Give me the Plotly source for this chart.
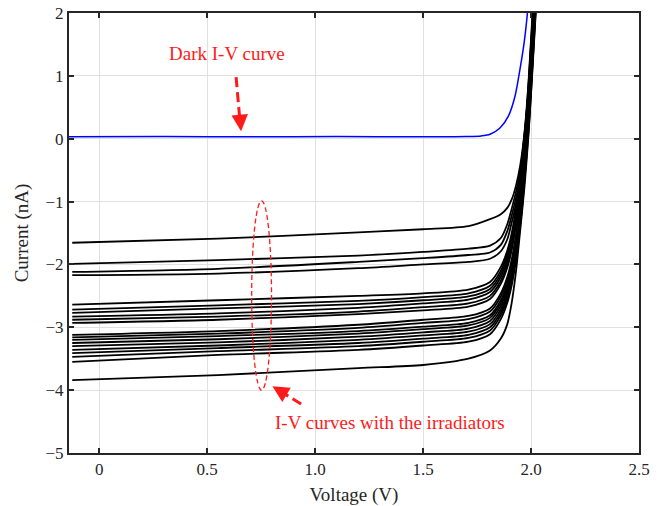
import plotly.graph_objects as go

# Bias voltage sample points (V) shared by the illuminated I-V sweeps
voltage_grid = [-0.125, 0.55, 1.2, 1.5, 1.71, 1.81, 1.86, 1.89, 1.91, 1.93, 1.95, 1.97, 1.99, 2.01, 2.03]

# Illuminated I-V curves (nA), one list per irradiator measurement
light_currents = [
    [-1.655, -1.59, -1.49, -1.44, -1.39, -1.28, -1.20, -1.10, -0.97, -0.75, -0.42, 0.10, 1.00, 2.20, 3.3],
    [-1.99, -1.93, -1.86, -1.80, -1.75, -1.70, -1.58, -1.36, -1.12, -0.85, -0.52, 0.00, 0.95, 2.10, 3.2],
    [-2.12, -2.07, -1.96, -1.90, -1.85, -1.81, -1.69, -1.47, -1.23, -0.95, -0.60, -0.05, 0.90, 2.05, 3.1],
    [-2.17, -2.145, -2.06, -2.00, -1.96, -1.91, -1.79, -1.60, -1.34, -1.05, -0.68, -0.10, 0.85, 2.00, 3.0],
    [-2.64, -2.57, -2.50, -2.46, -2.40, -2.28, -2.04, -1.78, -1.51, -1.11, -0.55, 0.10, 0.85, 1.95, 3.0],
    [-2.72, -2.65, -2.58, -2.52, -2.46, -2.34, -2.10, -1.84, -1.57, -1.17, -0.62, 0.05, 0.80, 1.90, 2.95],
    [-2.77, -2.70, -2.63, -2.57, -2.51, -2.39, -2.15, -1.89, -1.62, -1.22, -0.68, 0.00, 0.78, 1.88, 2.9],
    [-2.83, -2.78, -2.69, -2.62, -2.56, -2.44, -2.20, -1.94, -1.67, -1.27, -0.74, -0.05, 0.75, 1.85, 2.9],
    [-2.88, -2.83, -2.75, -2.68, -2.62, -2.50, -2.26, -2.00, -1.73, -1.33, -0.80, -0.10, 0.72, 1.82, 2.85],
    [-2.93, -2.88, -2.79, -2.73, -2.67, -2.55, -2.31, -2.05, -1.78, -1.38, -0.86, -0.15, 0.68, 1.80, 2.85],
    [-3.12, -3.06, -2.96, -2.88, -2.82, -2.70, -2.46, -2.20, -1.93, -1.53, -0.98, -0.25, 0.60, 1.75, 2.8],
    [-3.16, -3.10, -3.01, -2.93, -2.87, -2.75, -2.51, -2.25, -1.98, -1.58, -1.03, -0.30, 0.55, 1.70, 2.8],
    [-3.20, -3.14, -3.06, -2.99, -2.93, -2.81, -2.57, -2.31, -2.04, -1.64, -1.08, -0.35, 0.50, 1.65, 2.75],
    [-3.25, -3.19, -3.10, -3.03, -2.97, -2.85, -2.61, -2.35, -2.08, -1.68, -1.13, -0.40, 0.45, 1.60, 2.7],
    [-3.30, -3.24, -3.15, -3.08, -3.02, -2.90, -2.66, -2.40, -2.13, -1.73, -1.18, -0.45, 0.40, 1.55, 2.7],
    [-3.36, -3.29, -3.20, -3.13, -3.07, -2.95, -2.71, -2.45, -2.18, -1.78, -1.23, -0.50, 0.35, 1.50, 2.65],
    [-3.41, -3.33, -3.25, -3.18, -3.12, -3.00, -2.76, -2.50, -2.23, -1.83, -1.28, -0.55, 0.30, 1.45, 2.6],
    [-3.47, -3.38, -3.30, -3.23, -3.17, -3.05, -2.81, -2.55, -2.28, -1.88, -1.33, -0.60, 0.25, 1.40, 2.6],
    [-3.55, -3.44, -3.36, -3.29, -3.23, -3.11, -2.87, -2.61, -2.34, -1.94, -1.38, -0.65, 0.20, 1.35, 2.55],
    [-3.84, -3.76, -3.65, -3.60, -3.50, -3.37, -3.18, -2.95, -2.62, -2.12, -1.45, -0.75, 0.15, 1.30, 2.5],
]

# Dark I-V curve
dark_voltage = [-0.14, 0.3, 0.7, 1.1, 1.5, 1.7, 1.77, 1.81, 1.856, 1.895, 1.926, 1.949, 1.968, 1.983, 2.0]
dark_current = [0.03, 0.035, 0.03, 0.035, 0.03, 0.035, 0.045, 0.07, 0.17, 0.36, 0.68, 1.11, 1.53, 1.99, 2.7]

# Axis ticks
x_tick_values = [0, 0.5, 1.0, 1.5, 2.0, 2.5]
x_tick_labels = ["0", "0.5", "1.0", "1.5", "2.0", "2.5"]
y_tick_values = [-5, -4, -3, -2, -1, 0, 1, 2]

SERIF = "Liberation Serif, Times New Roman, serif"
RED = "#ff1a1a"
INK = "#262626"

fig = go.Figure()

for currents in light_currents:
    fig.add_trace(go.Scatter(
        x=voltage_grid, y=currents, mode="lines",
        line=dict(color="black", width=1.8, shape="spline", smoothing=0.8),
        hoverinfo="skip", showlegend=False,
    ))

fig.add_trace(go.Scatter(
    x=dark_voltage, y=dark_current, mode="lines",
    line=dict(color="#0000ff", width=1.5, shape="spline", smoothing=0.8),
    hoverinfo="skip", showlegend=False,
))

axis_common = dict(
    showline=True, linecolor=INK, linewidth=2, mirror="ticks",
    ticks="inside", ticklen=5, tickwidth=1.5, tickcolor=INK,
    showgrid=True, gridcolor="#e0e0e0", gridwidth=1,
    zeroline=False, automargin=False,
    tickfont=dict(family=SERIF, size=17, color=INK),
)

fig.update_xaxes(
    range=[-0.14, 2.5], tickvals=x_tick_values, ticktext=x_tick_labels,
    title=dict(text="Voltage (V)", font=dict(family=SERIF, size=19, color=INK), standoff=10),
    **axis_common,
)
fig.update_yaxes(
    range=[-5, 2], tickvals=y_tick_values,
    title=dict(text="Current (nA)", font=dict(family=SERIF, size=19, color=INK), standoff=12),
    **axis_common,
)

# Dashed ellipse around the illuminated curves
fig.add_shape(type="circle", xref="x", yref="y",
              x0=0.706, x1=0.798, y0=-4.0, y1=-0.99,
              line=dict(color=RED, width=1.3, dash="5px,3px"))

# Dashed arrow shafts
fig.add_shape(type="line", xref="x", yref="y",
              x0=0.634, y0=0.98, x1=0.652, y1=0.27,
              line=dict(color=RED, width=3, dash="10px,5px"))
fig.add_shape(type="line", xref="x", yref="y",
              x0=0.935, y0=-4.22, x1=0.845, y1=-4.03,
              line=dict(color=RED, width=3, dash="10px,5px"))

# Arrow heads
fig.add_annotation(x=0.657, y=0.12, xref="x", yref="y", ax=-1, ay=-12,
                   showarrow=True, arrowhead=2, arrowsize=1.1, arrowwidth=3,
                   arrowcolor=RED, text="")
fig.add_annotation(x=0.802, y=-3.94, xref="x", yref="y", ax=10, ay=6,
                   showarrow=True, arrowhead=2, arrowsize=1.1, arrowwidth=3,
                   arrowcolor=RED, text="")

# Labels
fig.add_annotation(x=0.59, y=1.36, xref="x", yref="y", text="Dark I-V curve",
                   showarrow=False, font=dict(family=SERIF, size=19, color=RED))
fig.add_annotation(x=1.347, y=-4.51, xref="x", yref="y", text="I-V curves with the irradiators",
                   showarrow=False, font=dict(family=SERIF, size=19, color=RED))

fig.update_layout(
    width=660, height=506,
    margin=dict(l=69, r=21, t=13, b=53),
    paper_bgcolor="white", plot_bgcolor="white",
    showlegend=False,
)

fig.write_html("out.html")
